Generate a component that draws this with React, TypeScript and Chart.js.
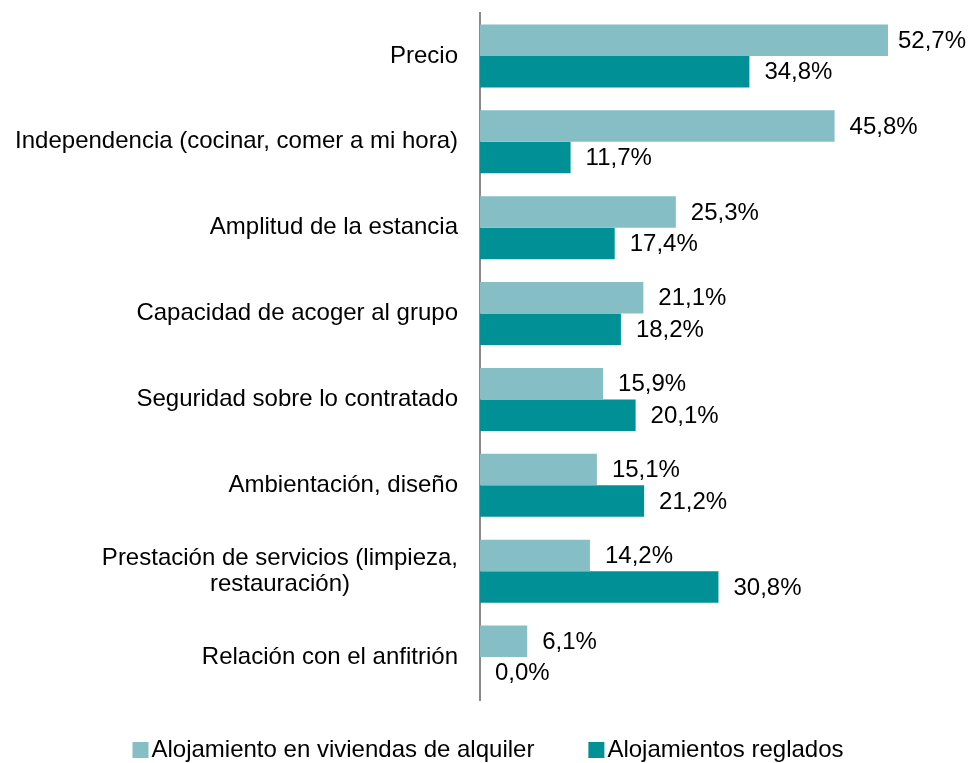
import React, { useEffect, useRef } from "react";
import { Chart, registerables } from "chart.js";

Chart.register(...registerables);

const categories: (string | string[])[] = [
  "Precio",
  "Independencia (cocinar, comer a mi hora)",
  "Amplitud de la estancia",
  "Capacidad de acoger al grupo",
  "Seguridad sobre lo contratado",
  "Ambientación, diseño",
  ["Prestación de servicios (limpieza,", "restauración)"],
  "Relación con el anfitrión",
];

const seriesNames = ["Alojamiento en viviendas de alquiler", "Alojamientos reglados"];
const rentalValues = [52.7, 45.8, 25.3, 21.1, 15.9, 15.1, 14.2, 6.1];
const regulatedValues = [34.8, 11.7, 17.4, 18.2, 20.1, 21.2, 30.8, 0.0];
const seriesColors = ["#86BEC6", "#009096"];

const FONT = "'Liberation Sans', Arial, sans-serif";

const fmt = (v: number) => v.toFixed(1).replace(".", ",") + "%";

const customPlugin = {
  id: "customLabels",
  afterDatasetsDraw(chart: any) {
    const ctx = chart.ctx as CanvasRenderingContext2D;
    ctx.save();
    ctx.fillStyle = "#000";
    ctx.textBaseline = "middle";

    // value labels
    ctx.font = `24px ${FONT}`;
    chart.data.datasets.forEach((ds: any, di: number) => {
      const meta = chart.getDatasetMeta(di);
      meta.data.forEach((bar: any, i: number) => {
        const text = fmt(ds.data[i]);
        const w = ctx.measureText(text).width;
        let x = bar.x + 15;
        if (x + w > chart.width - 4) x = chart.width - 4 - w;
        ctx.textAlign = "left";
        ctx.fillText(text, x, bar.y + 1);
      });
    });

    // category labels
    const yScale = chart.scales.y;
    const rightEdge = chart.chartArea.left - 22;
    categories.forEach((c, i) => {
      const lines = Array.isArray(c) ? c : [c];
      const y = yScale.getPixelForValue(i);
      const maxW = Math.max(...lines.map((l) => ctx.measureText(l).width));
      const cx = rightEdge - maxW / 2;
      const lh = 26;
      ctx.textAlign = "center";
      lines.forEach((l, k) => {
        ctx.fillText(l, cx, y + (k - (lines.length - 1) / 2) * lh);
      });
    });

    // legend
    ctx.font = `24px ${FONT}`;
    const box = 16;
    const gapText = 3;
    const gapItems = 54;
    const widths = seriesNames.map((n) => box + gapText + ctx.measureText(n).width);
    const total = widths.reduce((a, b) => a + b, 0) + gapItems * (seriesNames.length - 1);
    let x = chart.width / 2 - total / 2 + 3;
    const ly = 750;
    seriesNames.forEach((n, i) => {
      ctx.fillStyle = seriesColors[i];
      ctx.fillRect(x, ly - box / 2, box, box);
      ctx.fillStyle = "#000";
      ctx.textAlign = "left";
      ctx.fillText(n, x + box + gapText, ly);
      x += widths[i] + gapItems;
    });

    ctx.restore();
  },
};

export default function App() {
  const canvasRef = useRef<HTMLCanvasElement | null>(null);

  useEffect(() => {
    if (!canvasRef.current) return;
    const chart = new Chart(canvasRef.current, {
      type: "bar",
      data: {
        labels: categories.map((c) => (Array.isArray(c) ? c.join(" ") : c)),
        datasets: [
          {
            label: seriesNames[0],
            data: rentalValues,
            backgroundColor: seriesColors[0],
            categoryPercentage: 0.735,
            barPercentage: 1.0,
          },
          {
            label: seriesNames[1],
            data: regulatedValues,
            backgroundColor: seriesColors[1],
            categoryPercentage: 0.735,
            barPercentage: 1.0,
          },
        ],
      },
      options: {
        indexAxis: "y",
        animation: false,
        responsive: true,
        maintainAspectRatio: false,
        layout: { padding: { top: 13, bottom: 63, left: 0, right: 25.5 } },
        plugins: {
          legend: { display: false },
          tooltip: { enabled: false },
        },
        scales: {
          x: { display: false, min: 0, max: 60 },
          y: {
            ticks: { display: false },
            grid: { display: false, drawTicks: false },
            border: { display: true, color: "#898989", width: 2 },
            afterFit: (s: any) => {
              s.width = 480;
            },
          },
        },
      },
      plugins: [customPlugin],
    });
    return () => chart.destroy();
  }, []);

  return (
    <div style={{ position: "fixed", left: 0, top: 0, width: 970, height: 763, background: "#fff" }}>
      <canvas ref={canvasRef} />
    </div>
  );
}
